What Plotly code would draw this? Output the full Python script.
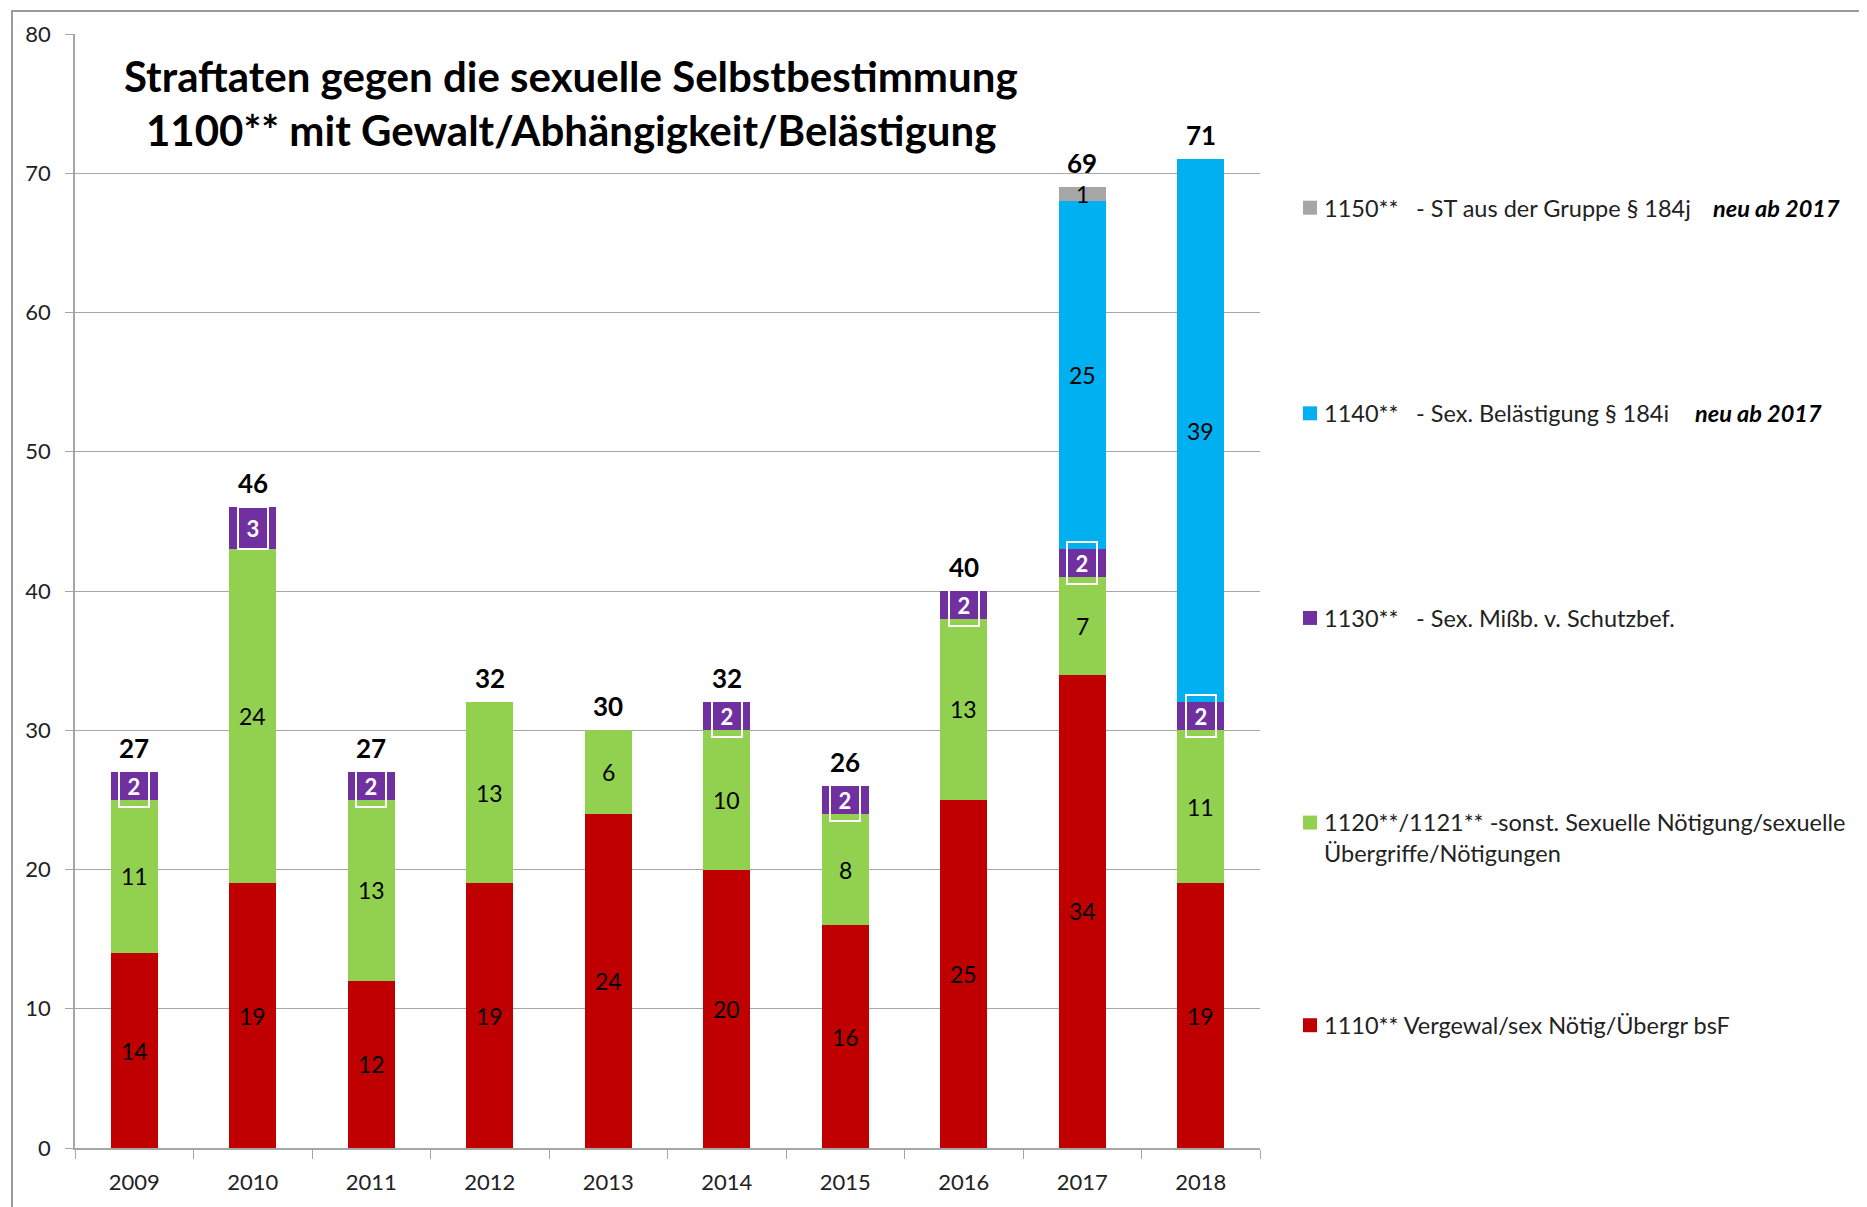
import plotly.graph_objects as go

years = ['2009', '2010', '2011', '2012', '2013', '2014', '2015', '2016', '2017', '2018']
v1110 = [14, 19, 12, 19, 24, 20, 16, 25, 34, 19]
v1120 = [11, 24, 13, 13, 6, 10, 8, 13, 7, 11]
v1130 = [2, 3, 2, None, None, 2, 2, 2, 2, 2]
v1140 = [None, None, None, None, None, None, None, None, 25, 39]
v1150 = [None, None, None, None, None, None, None, None, 1, None]
totals = [27, 46, 27, 32, 30, 32, 26, 40, 69, 71]

series = [v1110, v1120, v1130, v1140, v1150]
colors = ['#C00000', '#92D050', '#7030A0', '#00B0F0', '#A6A6A6']
legend_codes = ['1110** Vergewal/sex Nötig/Übergr bsF',
                '1120**/1121** -sonst. Sexuelle Nötigung/sexuelle<br>Übergriffe/Nötigungen',
                '1130**', '1140**', '1150**']
legend_desc = [None, None, '- Sex. Mißb. v. Schutzbef.',
               '- Sex. Belästigung § 184i', '- ST aus der Gruppe § 184j']
legend_note = [None, None, None, 'neu ab 2017', 'neu ab 2017']

title_lines = ['Straftaten gegen die sexuelle Selbstbestimmung',
               '1100** mit Gewalt/Abhängigkeit/Belästigung']

FONT = 'Lato'
# the page body has an 8px margin, so work in page pixels and shift
OFF = 8
W, H = 1867 - OFF, 1207 - OFF
PL, PR, PT, PB = 75, 1260, 33, 1149   # plot area in page pixels
L, R, T, B = PL - OFF, W - (PR - OFF), PT - OFF, H - (PB - OFF)


def px(x):
    return (x - PL) / (PR - PL)


def py(y):
    return (PB - y) / (PB - PT)


fig = go.Figure()
for vals, col in zip(series, colors):
    fig.add_trace(go.Bar(x=years, y=vals, marker_color=col, marker_line_width=0,
                         hoverinfo='x+y'))

annotations = []
# segment labels
base = [0] * len(years)
for k, vals in enumerate(series):
    for i, v in enumerate(vals):
        if not v:
            continue
        mid = base[i] + v / 2
        if k == 2:
            annotations.append(dict(x=i, y=mid, text=f'<b>{v}</b>', showarrow=False,
                                    yanchor='middle',
                                    font=dict(family=FONT, size=22, color='white'),
                                    bordercolor='white', borderwidth=2, borderpad=6,
                                    width=16, height=28))
        else:
            annotations.append(dict(x=i, y=mid, text=str(v), showarrow=False,
                                    yanchor='middle',
                                    font=dict(family=FONT, size=23, color='black')))
        base[i] += v

# totals
for i, tot in enumerate(totals):
    annotations.append(dict(x=i, y=tot, text=f'<b>{tot}</b>', showarrow=False,
                            yanchor='bottom', yshift=6,
                            font=dict(family=FONT, size=26, color='black')))

# title
for line, ypx in zip(title_lines, [75, 129]):
    annotations.append(dict(xref='paper', yref='paper', x=px(571), y=py(ypx),
                            text=f'<b>{line}</b>', showarrow=False,
                            xanchor='center', yanchor='middle',
                            font=dict(family=FONT, size=42, color='black')))

# legend (drawn by hand to match the spaced layout)
shapes = []
leg_y = [1026, 823, 618, 413, 207]
note_right = [None, None, None, 1824, 1842]
for code, desc, note, nx, col, ypx in zip(legend_codes, legend_desc, legend_note,
                                         note_right, colors, leg_y):
    shapes.append(dict(type='rect', xref='paper', yref='paper',
                       x0=px(1303), x1=px(1317), y0=py(ypx + 7), y1=py(ypx - 7),
                       fillcolor=col, line_width=0))
    ytxt = ypx + 15 if '<br>' in code else ypx
    annotations.append(dict(xref='paper', yref='paper', x=px(1322), y=py(ytxt),
                            text=code, showarrow=False, xanchor='left', yanchor='middle',
                            align='left',
                            font=dict(family=FONT, size=23.5, color='#222222')))
    if desc:
        annotations.append(dict(xref='paper', yref='paper', x=px(1414), y=py(ypx),
                                text=desc, showarrow=False, xanchor='left', yanchor='middle',
                                font=dict(family=FONT, size=23.5, color='#222222')))
    if note:
        annotations.append(dict(xref='paper', yref='paper', x=px(nx), y=py(ypx),
                                text=f'<b><i>{note}</i></b>', showarrow=False,
                                xanchor='right', yanchor='middle',
                                font=dict(family=FONT, size=23.5, color='black')))

# outer frame
shapes.append(dict(type='rect', xref='paper', yref='paper', layer='below',
                   x0=px(12), x1=px(1900), y0=py(1240), y1=py(10),
                   line=dict(color='#9a9a9a', width=2)))

fig.update_layout(
    width=W, height=H,
    margin=dict(l=L, r=R, t=T, b=B),
    barmode='stack', bargap=0.6,
    showlegend=False,
    plot_bgcolor='white', paper_bgcolor='white',
    font=dict(family=FONT, size=22, color='#222222'),
    annotations=annotations, shapes=shapes,
    xaxis=dict(type='category', showline=True, linecolor='#a6a6a6', linewidth=1.5,
               ticks='outside', tickson='boundaries', ticklen=9, tickcolor='#a6a6a6',
               ticklabelstandoff=14,
               showgrid=False, tickfont=dict(family=FONT, size=22, color='#222222')),
    yaxis=dict(range=[0, 80], dtick=10, showline=True, linecolor='#a6a6a6', linewidth=1.5,
               gridcolor='#a6a6a6', gridwidth=1.2, ticks='outside', ticklen=8,
               tickcolor='#a6a6a6', zeroline=False, ticklabelstandoff=10,
               tickfont=dict(family=FONT, size=22, color='#222222')),
)

fig.write_html('out.html')
